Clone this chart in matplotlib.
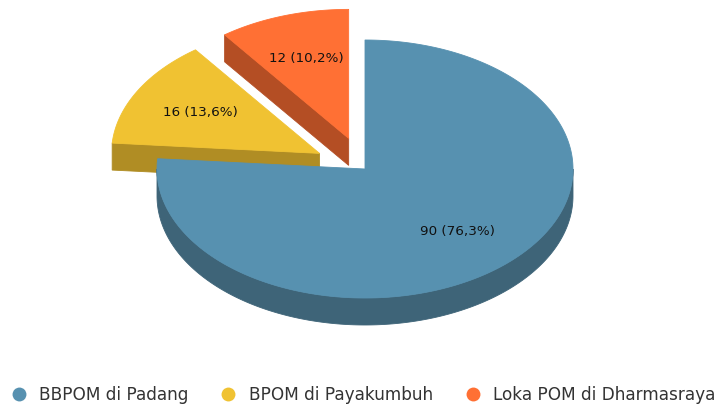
import numpy as np
import matplotlib.pyplot as plt
from matplotlib.patches import Polygon
from matplotlib.lines import Line2D

categories = ["BBPOM di Padang", "BPOM di Payakumbuh", "Loka POM di Dharmasraya"]
values = [90, 16, 12]
labels = ["90 (76,3%)", "16 (13,6%)", "12 (10,2%)"]
explode = [0.0, 0.25, 0.25]
top_colors = ["#5791B0", "#F0C232", "#FF7034"]
side_colors = ["#3E6478", "#B08D24", "#B44E24"]

plt.rcParams['font.family'] = ['DejaVu Sans']

fig = plt.figure(figsize=(7.2, 4.07), dpi=100)
ax = fig.add_axes([0, 0, 1, 1])
ax.set_xlim(0, 720)
ax.set_ylim(407, 0)
ax.axis('off')

CX, CY, RX, RY, DEPTH = 365, 169, 208, 129, 27
LABEL_R = 0.655

total = float(sum(values))
fracs = [v / total for v in values]
starts = np.concatenate([[0.0], np.cumsum(fracs)[:-1]]) * 2 * np.pi
ends = np.cumsum(fracs) * 2 * np.pi


def xy(t, ox, oy, r=1.0, dz=0.0):
    return (CX + ox + r * RX * np.sin(t), CY + oy - r * RY * np.cos(t) + dz)


slices = []
for i in range(len(values)):
    a, b = starts[i], ends[i]
    mid = (a + b) / 2
    ox = explode[i] * RX * np.sin(mid)
    oy = -explode[i] * RY * np.cos(mid)
    slices.append((i, a, b, mid, ox, oy))

# back-to-front ordering
slices.sort(key=lambda s: -np.cos(s[3]))

for i, a, b, mid, ox, oy in slices:
    apex = (CX + ox, CY + oy)
    apex_d = (CX + ox, CY + oy + DEPTH)
    kw = dict(facecolor=side_colors[i], edgecolor=side_colors[i], lw=0.6)
    # radial faces
    if np.sin(a) < -1e-6:
        pa = xy(a, ox, oy); pad = xy(a, ox, oy, dz=DEPTH)
        ax.add_patch(Polygon([apex, pa, pad, apex_d], closed=True, **kw))
    if np.sin(b) > 1e-6:
        pb = xy(b, ox, oy); pbd = xy(b, ox, oy, dz=DEPTH)
        ax.add_patch(Polygon([apex, pb, pbd, apex_d], closed=True, **kw))
    # outer curved side (front half only)
    lo, hi = max(a, np.pi / 2), min(b, 3 * np.pi / 2)
    if hi > lo:
        ts = np.linspace(lo, hi, 200)
        top = [xy(t, ox, oy) for t in ts]
        bot = [xy(t, ox, oy, dz=DEPTH) for t in ts[::-1]]
        ax.add_patch(Polygon(top + bot, closed=True, **kw))
    # top face
    ts = np.linspace(a, b, 300)
    pts = [apex] + [xy(t, ox, oy) for t in ts]
    ax.add_patch(Polygon(pts, closed=True, facecolor=top_colors[i],
                         edgecolor=top_colors[i], lw=0.6))

for i, a, b, mid, ox, oy in slices:
    lx, ly = xy(mid, ox, oy, r=LABEL_R)
    ax.text(lx, ly, labels[i], ha='center', va='center', fontsize=9.7,
            color='#111111')

handles = [Line2D([], [], marker='o', ls='none', color=c, markersize=10,
                  markeredgewidth=0) for c in top_colors]
leg = ax.legend(handles, categories, loc='center', bbox_to_anchor=(0.505, 0.0295),
                ncol=3, frameon=False, fontsize=12.2, handlelength=0.8,
                handletextpad=0.8, columnspacing=1.95, borderpad=0.0)
for t in leg.get_texts():
    t.set_color('#333333')

fig.savefig('out.png', dpi=100)
